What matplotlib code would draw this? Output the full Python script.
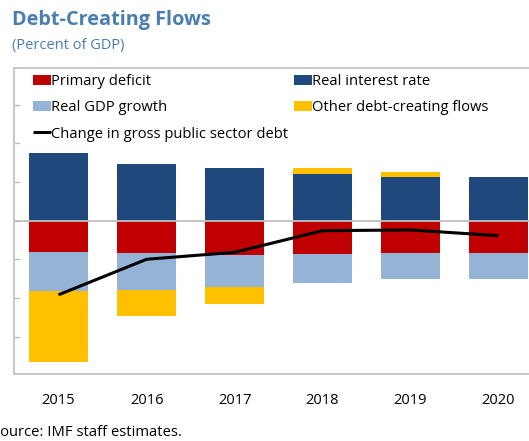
import matplotlib
matplotlib.use("Agg")
import matplotlib.pyplot as plt
import numpy as np

years = ["2015", "2016", "2017", "2018", "2019", "2020"]
primary_deficit = [-0.81, -0.85, -0.89, -0.86, -0.84, -0.84]
real_interest = [1.74, 1.47, 1.37, 1.22, 1.14, 1.13]
real_gdp_growth = [-1.02, -0.94, -0.84, -0.76, -0.68, -0.68]
other_flows = [-1.82, -0.69, -0.44, 0.14, 0.13, 0.0]
change_debt = [-1.92, -1.00, -0.82, -0.26, -0.24, -0.39]

plt.rcParams['font.family'] = ['Open Sans', 'DejaVu Sans']

C_RED = '#C00000'
C_BLUE = '#1F497D'
C_LBLUE = '#95B3D7'
C_YEL = '#FFC000'
C_TITLE = '#4A7DB0'

fig = plt.figure(figsize=(5.29, 4.41), dpi=100)
ax = fig.add_axes([14/529, 1-374/441, 1.0, (374-67.7)/441])

x = np.arange(len(years))
w = 0.667

pos_base = np.zeros(len(x))
neg_base = np.zeros(len(x))

def stack(vals, color, label):
    global pos_base, neg_base
    vals = np.asarray(vals)
    bottoms = np.where(vals >= 0, pos_base, neg_base)
    b = ax.bar(x, vals, w, bottom=bottoms, color=color, label=label,
               edgecolor='none', zorder=2)
    pos_base = pos_base + np.where(vals >= 0, vals, 0)
    neg_base = neg_base + np.where(vals < 0, vals, 0)
    return b

h_pd = stack(primary_deficit, C_RED, 'Primary deficit')
h_ri = stack(real_interest, C_BLUE, 'Real interest rate')
h_gg = stack(real_gdp_growth, C_LBLUE, 'Real GDP growth')
h_of = stack(other_flows, C_YEL, 'Other debt-creating flows')
h_ln, = ax.plot(x, change_debt, color='black', lw=2.2, zorder=4,
                label='Change in gross public sector debt', solid_capstyle='butt')

ax.axhline(0, color='#BFBFBF', lw=1.3, zorder=3)

ax.set_xlim(-0.506, len(x) - 1 + 0.506)
ax.set_ylim(-3.97, 3.96)
ax.set_yticks(np.arange(-3, 4, 1))
ax.set_yticklabels([])
ax.tick_params(axis='y', direction='in', length=4, color='#BFBFBF', width=1)
ax.set_xticks(x)
ax.set_xticklabels(years, fontsize=10.5)
ax.tick_params(axis='x', length=0, pad=14)
for s in ['left', 'top', 'bottom']:
    ax.spines[s].set_color('#BFBFBF')
    ax.spines[s].set_linewidth(1.2)
ax.spines['right'].set_visible(False)

handles = [h_pd, h_gg, h_ln, h_ri, h_of]
labels = [h.get_label() for h in handles]
leg = ax.legend(handles, labels, ncol=2, loc='upper left',
                bbox_to_anchor=(19/529, 0.978), frameon=False, fontsize=10.6,
                handlelength=1.22, handleheight=0.68, handletextpad=0.0,
                columnspacing=0.4, labelspacing=0.75, borderaxespad=0.0,
                borderpad=0.0)

fig.text(12/529, 1-20/441, 'Debt-Creating Flows', color=C_TITLE,
         fontsize=14.3, fontweight='bold', va='center', ha='left')
fig.text(12/529, 1-45/441, '(Percent of GDP)', color=C_TITLE,
         fontsize=10.5, va='center', ha='left')
fig.text(-8/529, 1-432/441, 'Source: IMF staff estimates.', color='black',
         fontsize=10.6, va='center', ha='left')

fig.savefig('out.png', dpi=100)
